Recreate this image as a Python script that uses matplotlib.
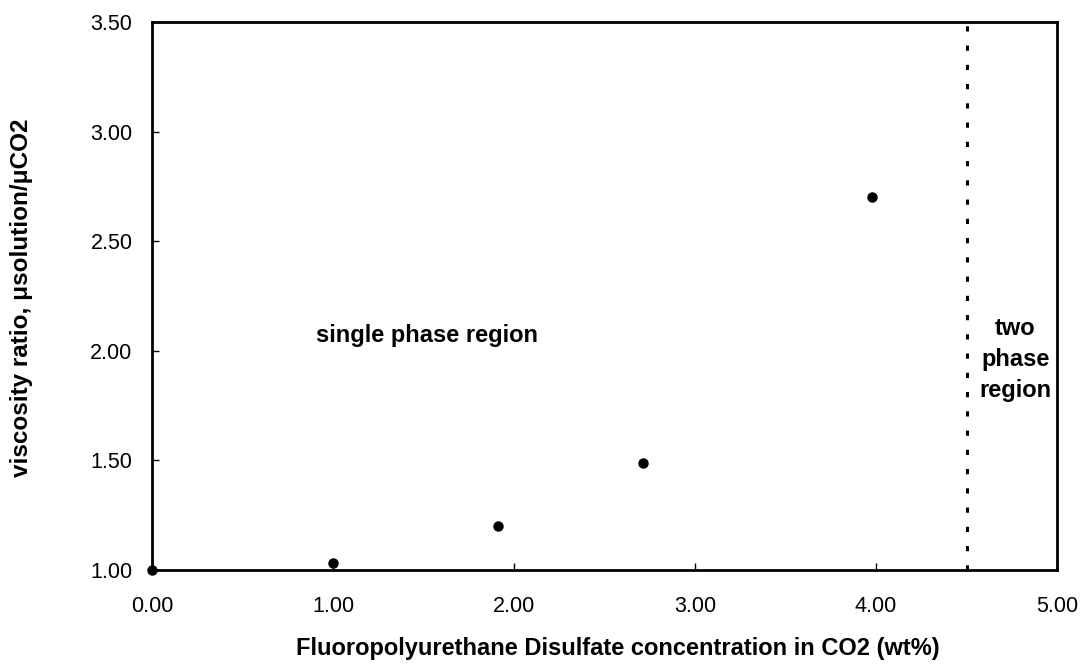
import matplotlib
matplotlib.use("Agg")
import matplotlib.pyplot as plt

conc = [0.0, 1.0, 1.91, 2.71, 3.98]
visc = [1.0, 1.03, 1.20, 1.49, 2.70]
phase_boundary = 4.5
xticks = [0, 1, 2, 3, 4, 5]
yticks = [1.0, 1.5, 2.0, 2.5, 3.0, 3.5]

plt.rcParams['font.family'] = ['Liberation Sans', 'DejaVu Sans']

fig = plt.figure(figsize=(10.84, 6.64), dpi=100)
ax = fig.add_axes([0.1402, 0.1416, 0.8349, 0.8253])

ax.plot(conc, visc, 'o', color='black', markersize=6.5, clip_on=False, zorder=5)
ax.axvline(phase_boundary, color='black', linewidth=2.2, linestyle=(0, (1.7, 4.6)))

ax.set_xlim(0, 5)
ax.set_ylim(1.0, 3.5)
ax.set_xticks(xticks)
ax.set_yticks(yticks)
ax.set_xticklabels([f"{v:.2f}" for v in xticks])
ax.set_yticklabels([f"{v:.2f}" for v in yticks])
ax.tick_params(direction='in', length=5, width=1, labelsize=15.5, colors='black')
ax.tick_params(axis='y', pad=14)
ax.tick_params(axis='x', pad=19)
for s in ax.spines.values():
    s.set_linewidth(2)
    s.set_color('black')

ax.text(1.52, 2.07, "single phase region", fontsize=17, fontweight='bold', ha='center', va='center')
ax.text(4.77, 1.96, "two\nphase\nregion", fontsize=17, fontweight='bold', ha='center', va='center', linespacing=1.45)

fig.text(0.5695, 0.024, "Fluoropolyurethane Disulfate concentration in CO2 (wt%)",
         fontsize=17, fontweight='bold', ha='center', va='center')
fig.text(0.02, 0.551, "viscosity ratio, μsolution/μCO2",
         fontsize=17.5, fontweight='bold', ha='center', va='center', rotation=90)

fig.savefig("out.png", dpi=100)
